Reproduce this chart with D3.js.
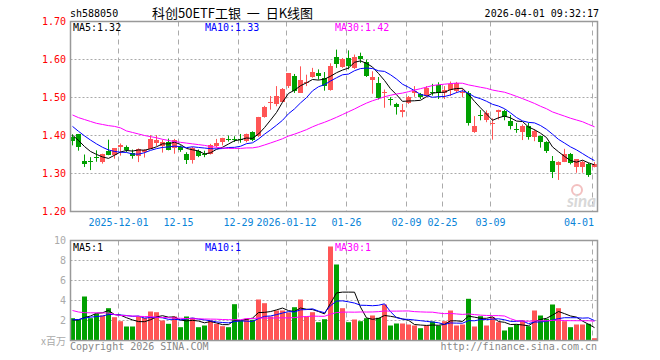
<!DOCTYPE html>
<html><head><meta charset="utf-8">
<script src="https://cdn.jsdelivr.net/npm/d3@7"></script>
<style>html,body{margin:0;padding:0;background:#fff;} svg{display:block;}</style>
</head><body>
<svg id="c" width="660" height="360"></svg>
<script>
const dates = [
"2025-11-19","2025-11-20","2025-11-21","2025-11-24","2025-11-25","2025-11-26","2025-11-27","2025-11-28",
"2025-12-01","2025-12-02","2025-12-03","2025-12-04","2025-12-05","2025-12-08","2025-12-09","2025-12-10","2025-12-11","2025-12-12",
"2025-12-15","2025-12-16","2025-12-17","2025-12-18","2025-12-19","2025-12-22","2025-12-23","2025-12-24","2025-12-25","2025-12-26",
"2025-12-29","2025-12-30","2025-12-31",
"2026-01-05","2026-01-06","2026-01-07","2026-01-08","2026-01-09",
"2026-01-12","2026-01-13","2026-01-14","2026-01-15","2026-01-16","2026-01-19","2026-01-20","2026-01-21","2026-01-22","2026-01-23",
"2026-01-26","2026-01-27","2026-01-28","2026-01-29","2026-01-30","2026-02-02","2026-02-03","2026-02-04","2026-02-05","2026-02-06",
"2026-02-09","2026-02-10","2026-02-11","2026-02-12","2026-02-13","2026-02-24",
"2026-02-25","2026-02-26","2026-02-27","2026-03-02","2026-03-03","2026-03-04","2026-03-05","2026-03-06",
"2026-03-09","2026-03-10","2026-03-11","2026-03-12","2026-03-13",
"2026-03-16","2026-03-17","2026-03-18","2026-03-19","2026-03-20",
"2026-03-23","2026-03-24","2026-03-25","2026-03-26","2026-03-27",
"2026-03-30","2026-03-31","2026-04-01"];

const opens = [1.396,1.403,1.334,1.332,1.343,1.332,1.360,1.348,1.368,1.370,1.353,1.346,1.358,1.366,1.379,1.374,1.384,1.365,1.370,1.352,
1.335,1.360,1.350,1.353,1.374,1.382,1.392,1.392,1.392,1.385,1.409,1.398,1.449,1.486,1.483,1.490,1.530,1.556,1.514,1.540,
1.553,1.564,1.552,1.521,1.607,1.580,1.603,1.578,1.610,1.594,1.547,1.537,1.512,1.497,1.484,1.460,1.486,1.512,1.508,1.505,
1.514,1.532,1.512,1.521,1.517,1.513,1.512,1.409,1.453,1.440,1.430,1.460,1.464,1.439,1.418,1.409,1.424,1.397,1.398,1.382,
1.333,1.322,1.332,1.350,1.315,1.315,1.325,1.318];
const highs = [1.403,1.404,1.350,1.343,1.361,1.352,1.389,1.367,1.379,1.374,1.363,1.366,1.364,1.401,1.401,1.389,1.392,1.391,1.374,1.356,
1.370,1.363,1.360,1.378,1.391,1.394,1.400,1.398,1.404,1.405,1.411,1.449,1.478,1.504,1.530,1.525,1.564,1.562,1.582,1.560,
1.578,1.574,1.567,1.590,1.626,1.604,1.624,1.613,1.618,1.600,1.569,1.554,1.521,1.501,1.486,1.483,1.504,1.530,1.512,1.530,
1.536,1.540,1.530,1.542,1.541,1.523,1.517,1.451,1.467,1.466,1.445,1.468,1.468,1.454,1.433,1.429,1.433,1.417,1.400,1.385,
1.346,1.332,1.365,1.354,1.338,1.334,1.328,1.330];
const lows = [1.374,1.360,1.317,1.309,1.331,1.326,1.348,1.339,1.347,1.356,1.339,1.330,1.342,1.365,1.372,1.355,1.361,1.352,1.357,1.325,
1.326,1.343,1.343,1.350,1.368,1.374,1.384,1.383,1.381,1.382,1.385,1.396,1.447,1.468,1.477,1.488,1.525,1.512,1.512,1.530,
1.552,1.547,1.518,1.518,1.578,1.578,1.574,1.575,1.591,1.554,1.510,1.495,1.473,1.479,1.455,1.448,1.483,1.502,1.496,1.503,
1.505,1.496,1.496,1.504,1.512,1.501,1.426,1.407,1.440,1.435,1.389,1.442,1.440,1.416,1.407,1.388,1.389,1.385,1.368,1.354,
1.288,1.283,1.330,1.324,1.302,1.302,1.291,1.316];
const closes = [1.385,1.369,1.325,1.331,1.341,1.352,1.350,1.366,1.374,1.361,1.344,1.365,1.363,1.392,1.387,1.384,1.363,1.387,1.361,1.335,
1.366,1.348,1.347,1.376,1.381,1.393,1.391,1.390,1.390,1.403,1.388,1.448,1.475,1.488,1.504,1.523,1.564,1.517,1.547,1.542,
1.567,1.556,1.530,1.584,1.589,1.602,1.582,1.606,1.603,1.556,1.554,1.497,1.514,1.495,1.477,1.466,1.502,1.517,1.501,1.525,
1.512,1.512,1.519,1.536,1.539,1.515,1.433,1.426,1.451,1.458,1.432,1.466,1.449,1.427,1.416,1.426,1.394,1.413,1.381,1.359,
1.303,1.330,1.352,1.327,1.337,1.329,1.296,1.325];
// volume, millions
const volumes = [2.23,2.07,4.4,2.23,2.67,2.5,3.23,2.33,1.93,1.4,1.4,2.4,2.27,2.9,2.83,2.0,1.67,2.4,1.33,2.4,
2.27,1.33,1.5,2.0,1.67,1.43,1.33,3.63,2.0,2.17,2.07,4.1,3.73,2.4,3.0,3.0,2.8,3.33,4.1,2.4,
2.83,1.83,2.13,9.4,7.6,3.23,1.83,2.1,1.93,2.23,2.5,2.27,3.6,1.5,1.7,1.7,1.6,1.5,1.23,1.5,
1.9,1.5,1.93,3.0,1.5,1.6,4.17,1.4,2.43,1.5,2.33,1.83,1.0,1.33,1.6,2.0,1.43,3.0,2.5,2.17,
3.6,3.23,1.93,1.33,1.6,1.6,1.67,0.23];

// moving-average values before enough bars exist in the window
const ma5Head = [1.401,1.387,1.371,1.358];
const ma10Head = [1.424,1.411,1.399,1.388,1.378,1.369,1.362,1.358,1.356];
const ma30Head = [1.454,1.447,1.442,1.437,1.432,1.429,1.426,1.424,1.420,1.412,1.408,1.404,1.400,1.397,1.394,1.390,1.387,1.384,1.382,1.380,
1.378,1.376,1.374,1.371,1.369,1.367,1.366,1.366,1.366];
const vma5Head = [2.05,2.05,2.3,2.45];
const vma10Head = [2.07,2.1,2.25,2.33,2.4,2.45,2.6,2.6,2.55];
const vma30Head = [3.0,2.85,2.78,2.77,2.77,2.76,2.75,2.6,2.5,2.48,2.45,2.42,2.4,2.38,2.33,2.3,2.28,2.25,2.22,2.2,
2.17,2.17,2.15,2.14,2.13,2.1,2.08,2.08,2.07];

const tickDates = ["2025-12-01","2025-12-15","2025-12-29","2026-01-12","2026-01-26","2026-02-09","2026-02-25","2026-03-09","2026-04-01"];
const tickLabels = ["2025-12-01","12-15","12-29","2026-01-12","01-26","02-09","02-25","03-09","04-01"];
const priceTicks = [1.20,1.30,1.40,1.50,1.60,1.70];
const volTicks = [2,4,6,8,10];
const mainLegend = ["MA5:1.32","MA10:1.33","MA30:1.42"];
const volLegend = ["MA5:1","MA10:1","MA30:1"];
const code = "sh588050";
const title = "科创50ETF工银  一  日K线图";
const stamp = "2026-04-01 09:32:17";

function movingAvg(vals, n, head){
  return vals.map((v,i)=> i < n-1 ? head[i] : d3.mean(vals.slice(i-n+1,i+1)));
}

const svg = d3.select("#c");
svg.append("rect").attr("width",660).attr("height",360).attr("fill","#fff");
const L = 70.5, R = 597.5;
const x = d3.scalePoint().domain(dates).range([72, 594]);
const y = d3.scaleLinear().domain([1.2,1.7]).range([211.5,21.5]);
const yv = d3.scaleLinear().domain([0,10]).range([340.5,240.5]);
const UP = "#ff5555", DN = "#00a000", GRID = "#aaaaaa";
const mono = "'DejaVu Sans Mono', monospace";

// grids
[[y,priceTicks.slice(1,-1)],[yv,volTicks.slice(0,-1)]].forEach(([sc,ticks])=>{
  svg.append("g").selectAll("line").data(ticks).join("line")
    .attr("x1",L).attr("x2",R).attr("y1",d=>Math.round(sc(d)-0.5)+0.5).attr("y2",d=>Math.round(sc(d)-0.5)+0.5)
    .attr("stroke",GRID).attr("stroke-dasharray","2,2");
});
[[21.5,211.5],[240.5,340.5]].forEach(([t,b])=>{
  svg.append("g").selectAll("line").data(tickDates).join("line")
    .attr("x1",d=>x(d)-1.5).attr("x2",d=>x(d)-1.5).attr("y1",t).attr("y2",b)
    .attr("stroke",GRID).attr("stroke-dasharray","5,4");
});

// watermark
const wm = svg.append("g");
wm.append("circle").attr("cx",577).attr("cy",190).attr("r",5).attr("fill","none").attr("stroke","#f3c0c0").attr("stroke-width",2);
wm.append("text").attr("x",596).attr("y",207).attr("text-anchor","end").attr("font-family","Lato, sans-serif")
  .attr("font-style","italic").attr("font-weight","bold").attr("font-size",17).attr("fill","#d8d8d8").text("sina");

// candles
const idx = d3.range(dates.length);
const cg = svg.append("g");
cg.selectAll("line").data(idx).join("line")
  .attr("x1",i=>x(dates[i])+0.5).attr("x2",i=>x(dates[i])+0.5)
  .attr("y1",i=>y(highs[i])).attr("y2",i=>y(lows[i]))
  .attr("stroke",i=>closes[i]>=opens[i]?UP:DN);
cg.selectAll("rect").data(idx).join("rect")
  .attr("x",i=>x(dates[i])-2).attr("width",5)
  .attr("y",i=>Math.round(y(Math.max(opens[i],closes[i]))))
  .attr("height",i=>Math.max(1,Math.round(Math.abs(y(opens[i])-y(closes[i])))))
  .attr("fill",i=>closes[i]>=opens[i]?UP:DN);

// volume bars
svg.append("g").selectAll("rect").data(idx).join("rect")
  .attr("x",i=>x(dates[i])-2).attr("width",5)
  .attr("y",i=>yv(volumes[i])).attr("height",i=>yv(0)-yv(volumes[i]))
  .attr("fill",i=>closes[i]>=opens[i]?UP:DN);

// MA lines
const lineP = d3.line().x((d,i)=>x(dates[i])+0.5).y(d=>y(d));
const lineV = d3.line().x((d,i)=>x(dates[i])+0.5).y(d=>yv(d));
const maCols = ["#000000","#0000ff","#ff00ff"];
[[5,ma5Head],[10,ma10Head],[30,ma30Head]].forEach(([n,h],k)=>{
  svg.append("path").attr("d",lineP(movingAvg(closes,n,h))).attr("fill","none").attr("stroke",maCols[k]).attr("stroke-width",1);
});
[[5,vma5Head],[10,vma10Head],[30,vma30Head]].forEach(([n,h],k)=>{
  svg.append("path").attr("d",lineV(movingAvg(volumes,n,h))).attr("fill","none").attr("stroke",maCols[k]).attr("stroke-width",1);
});

// frames
svg.append("rect").attr("x",L).attr("y",21.5).attr("width",R-L).attr("height",190).attr("fill","none").attr("stroke","#999").attr("stroke-width",1.5);
svg.append("rect").attr("x",L).attr("y",240.5).attr("width",R-L).attr("height",100).attr("fill","none").attr("stroke","#999").attr("stroke-width",1.5);

// axis labels
svg.append("g").selectAll("text").data(priceTicks).join("text")
  .attr("x",66).attr("y",d=>y(d)).attr("dy","0.35em").attr("text-anchor","end")
  .attr("font-family",mono).attr("font-size",10).attr("fill","#ff0000").text(d=>d.toFixed(2));
svg.append("g").selectAll("text").data(volTicks).join("text")
  .attr("x",66).attr("y",d=>yv(d)).attr("dy","0.35em").attr("text-anchor","end")
  .attr("font-family",mono).attr("font-size",10).attr("fill","#aaaaaa").text(d=>d);
svg.append("text").attr("x",66).attr("y",341).attr("dy","0.35em").attr("text-anchor","end")
  .attr("font-family","'Noto Sans CJK SC', sans-serif").attr("font-size",10).attr("fill","#aaaaaa").text("x百万");
svg.append("g").selectAll("text").data(tickDates).join("text")
  .attr("x",(d,i)=> i===tickDates.length-1 ? 594 : x(d)-1.5)
  .attr("y",222).attr("dy","0.35em")
  .attr("text-anchor",(d,i)=> i===tickDates.length-1 ? "end" : "middle")
  .attr("font-family",mono).attr("font-size",10).attr("fill","#0a84d8").text((d,i)=>tickLabels[i]);

// legends
const legX = [73,205,335];
mainLegend.forEach((t,k)=>svg.append("text").attr("x",legX[k]).attr("y",27.5).attr("dy","0.35em")
  .attr("font-family",mono).attr("font-size",10).attr("fill",maCols[k]).text(t));
volLegend.forEach((t,k)=>svg.append("text").attr("x",legX[k]).attr("y",247).attr("dy","0.35em")
  .attr("font-family",mono).attr("font-size",10).attr("fill",maCols[k]).text(t));

// header
svg.append("text").attr("x",70).attr("y",13).attr("dy","0.35em").attr("font-family",mono).attr("font-size",10).attr("fill","#000").text(code);
svg.append("text").attr("x",152).attr("y",13).attr("dy","0.35em").style("white-space","pre").attr("font-family","'Noto Sans CJK SC', sans-serif").attr("font-size",13).attr("fill","#000").text(title);
svg.append("text").attr("x",599).attr("y",13).attr("dy","0.35em").attr("text-anchor","end").attr("font-family",mono).attr("font-size",10).attr("fill","#000").text(stamp);

// footer
svg.append("text").attr("x",70).attr("y",346).attr("dy","0.35em").attr("font-family",mono).attr("font-size",10).attr("fill","#888").text("Copyright 2026 SINA.COM");
svg.append("text").attr("x",597).attr("y",346).attr("dy","0.35em").attr("text-anchor","end").attr("font-family",mono).attr("font-size",10).attr("fill","#888").text("http://finance.sina.com.cn");
</script>
</body></html>
